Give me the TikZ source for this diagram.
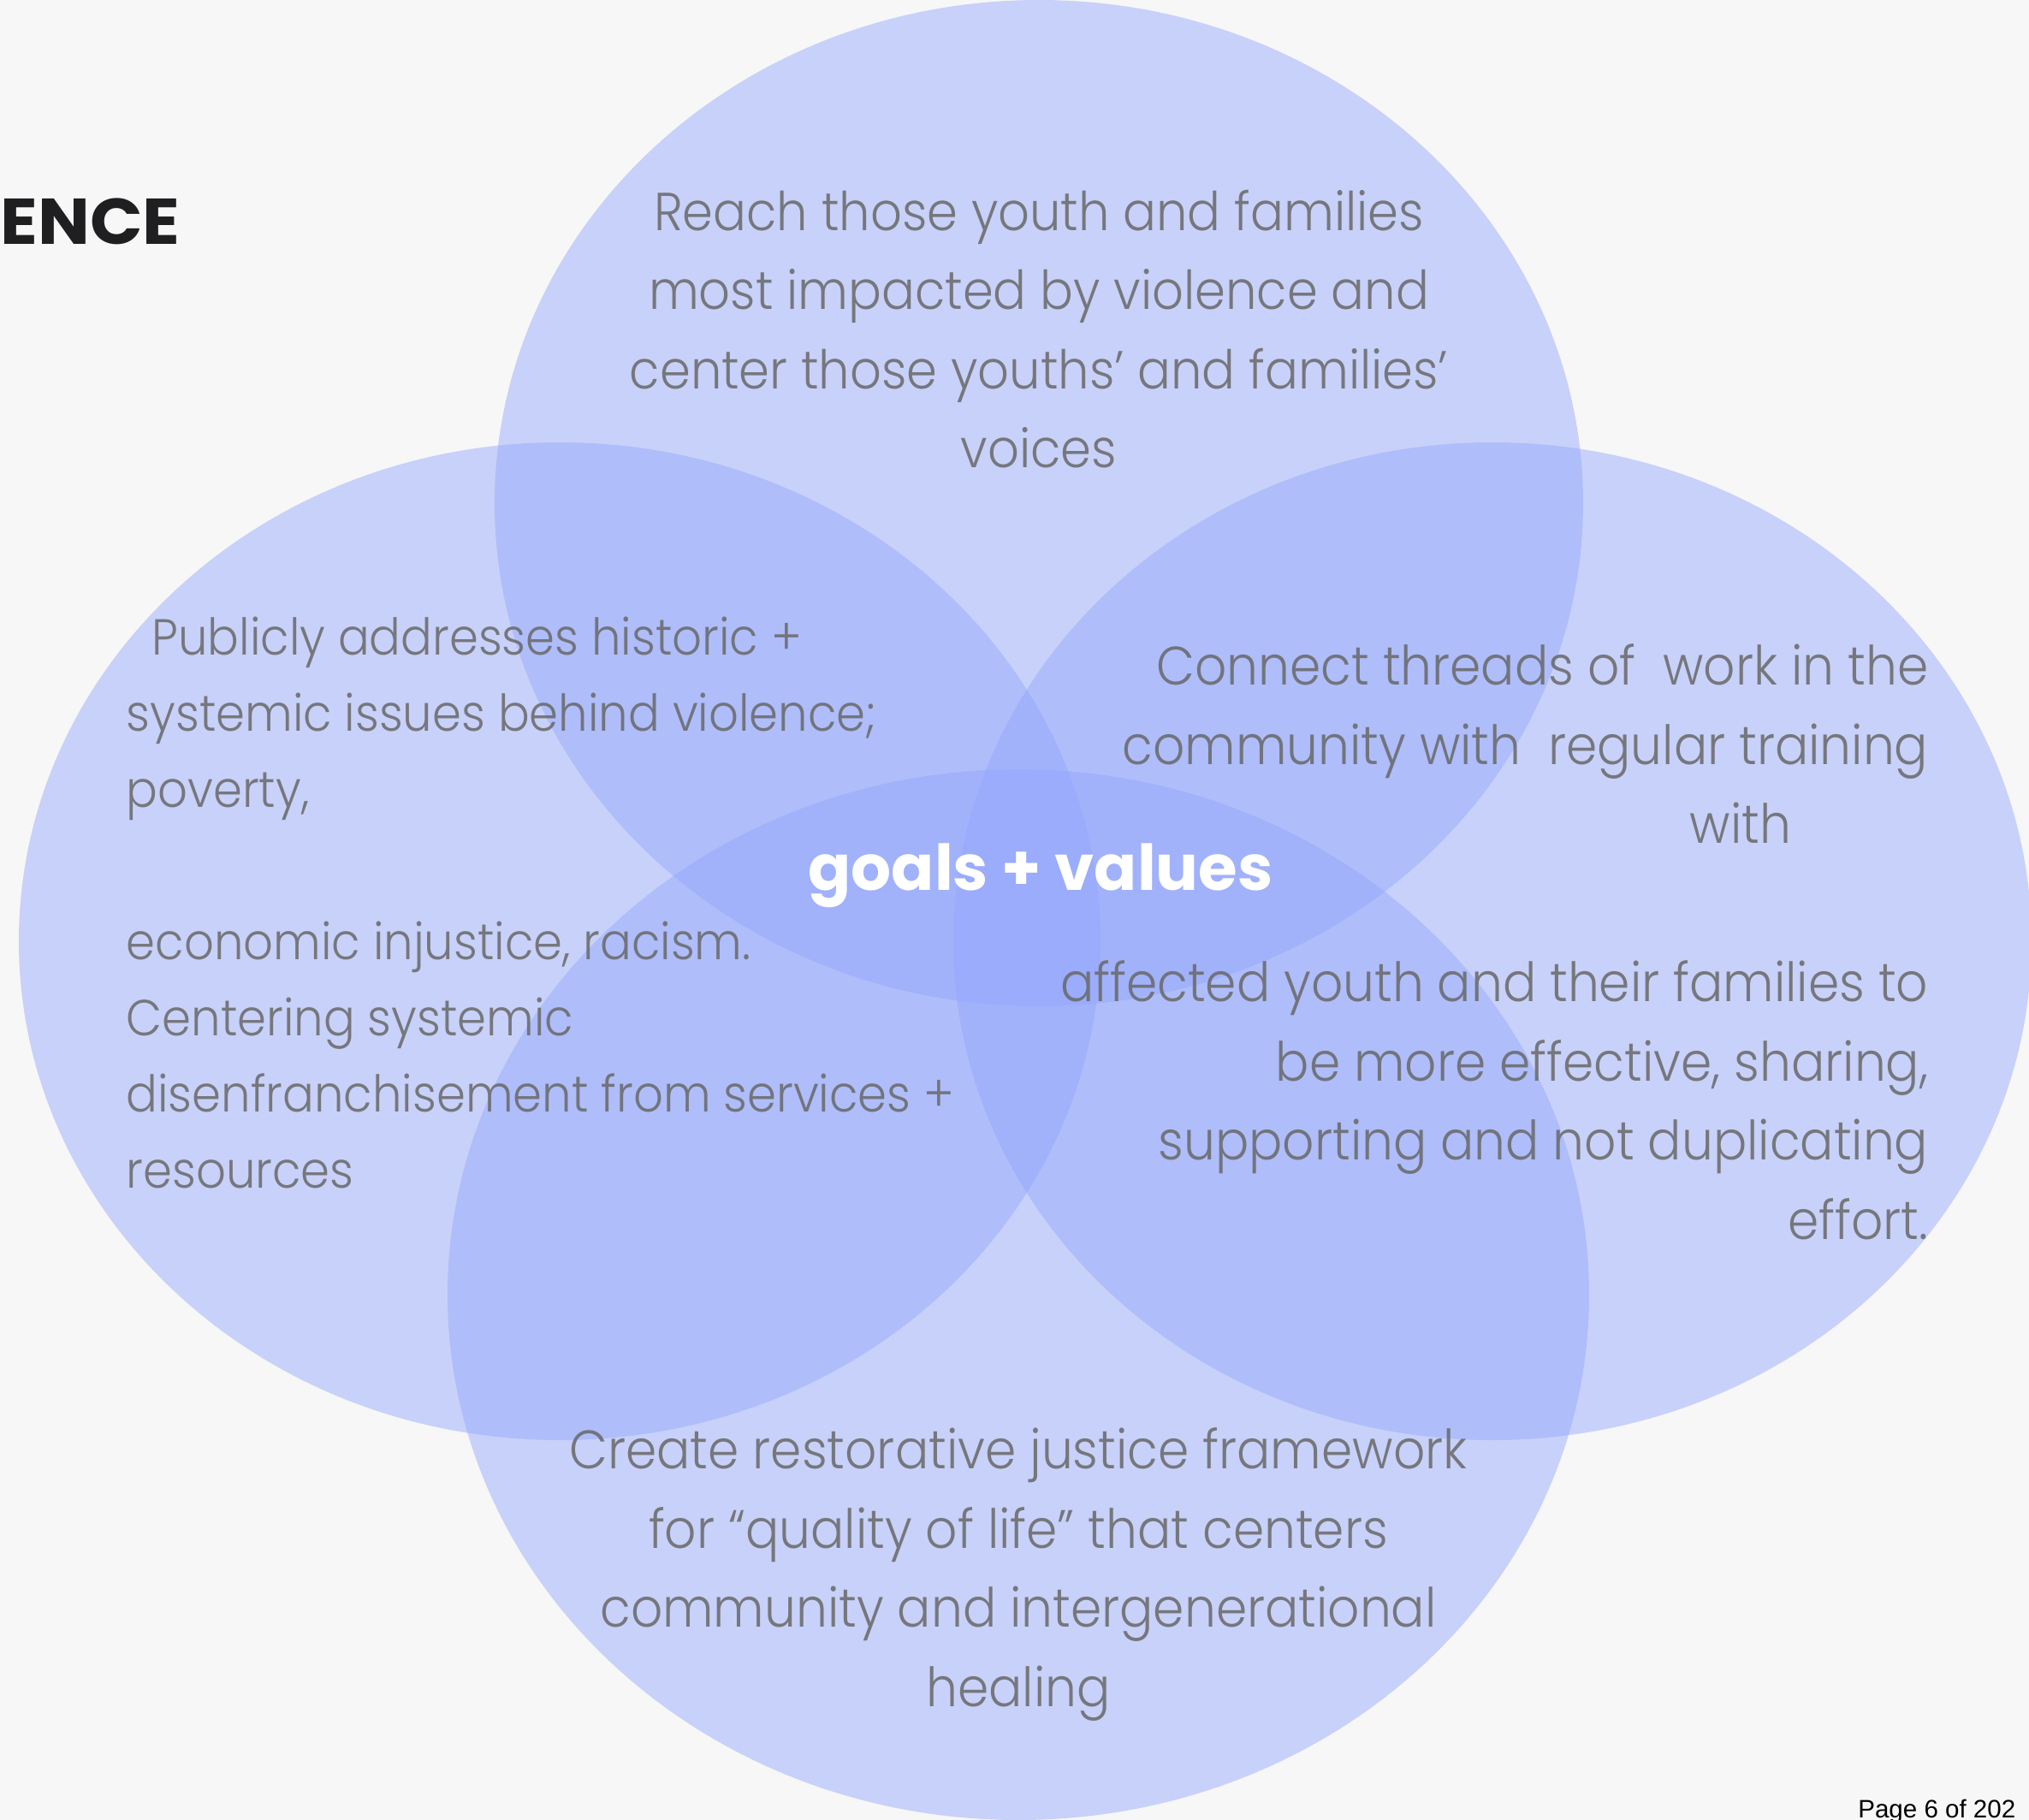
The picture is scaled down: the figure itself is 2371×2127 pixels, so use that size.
\documentclass[tikz,border=0pt]{standalone}
\usepackage{fontspec}
\IfFontExistsTF{Poppins Light}
  {\newfontfamily\bodyfont[FakeStretch=0.92]{Poppins Light}}
  {\newfontfamily\bodyfont[FakeStretch=0.92]{Poppins}}
\newfontfamily\headfont{Poppins}
\newfontfamily\widehead[FakeStretch=1.07]{Poppins}
\newfontfamily\pagefont{Liberation Sans}

\definecolor{paper}{RGB}{247,247,247}
\definecolor{venn}{RGB}{146,166,253}
\definecolor{copytext}{RGB}{104,104,104}
\definecolor{ink}{RGB}{31,31,33}

\begin{document}
\begin{tikzpicture}[
    x=0.01cm, y=-0.01cm,
    bubble/.style={fill=venn, fill opacity=0.46, draw=none},
    blurb/.style={inner sep=0pt, text=copytext, text opacity=0.85,
        font=\bodyfont\fontsize{18}{26.3}\selectfont},
    heading/.style={inner sep=0pt, text=ink, font=\widehead\bfseries\fontsize{21.5}{24}\selectfont},
    core/.style={inner sep=0pt, text=white, font=\headfont\bfseries\fontsize{21}{26}\selectfont}
]

% page background
\fill[paper] (0,0) rectangle (2371,2127);
\useasboundingbox (0,0) rectangle (2371,2127);

% Four overlapping circles
\fill[bubble] (1214,588) ellipse [x radius=636, y radius=588];
\fill[bubble] (654,1100) ellipse [x radius=632, y radius=583];
\fill[bubble] (1744,1100) ellipse [x radius=630, y radius=583];
\fill[bubble] (1190,1513) ellipse [x radius=667, y radius=614];

% Section heading
\node[heading, anchor=base west] (heading) at (0,285) {ENCE};

% Circle texts
\node[blurb, anchor=north, align=center, font=\bodyfont\fontsize{17.8}{26.3}\selectfont] (reach) at (1214,221)
    {Reach those youth and families\\most impacted by violence and\\center those youths’ and families’\\voices};
\node[blurb, anchor=north west, align=left, font=\bodyfont\fontsize{16.85}{25.3}\selectfont] (history) at (147,720)
    {~~Publicly addresses historic +\\systemic issues behind violence;\\poverty,\\[25.3pt]economic injustice, racism.\\Centering systemic\\disenfranchisement from services +\\resources};
\node[blurb, anchor=north east, align=right] (connect) at (2254,752)
    {Connect threads of~ work in the\\community with~ regular training\\with\rule{1.6cm}{0pt}\\[26.3pt]affected youth and their families to\\be more effective, sharing,\\supporting and not duplicating\\effort.};
\node[blurb, anchor=north, align=center] (justice) at (1190,1668)
    {Create restorative justice framework\\for “quality of life” that centers\\community and intergenerational\\healing};

% Centre label
\node[core, anchor=base] (goals) at (1216,1040) {goals + values};

% Page number
\node[inner sep=0pt, anchor=base east, font=\pagefont\fontsize{8.4}{10}\selectfont] (page) at (2356,2124) {Page 6 of 202};

\end{tikzpicture}
\end{document}
